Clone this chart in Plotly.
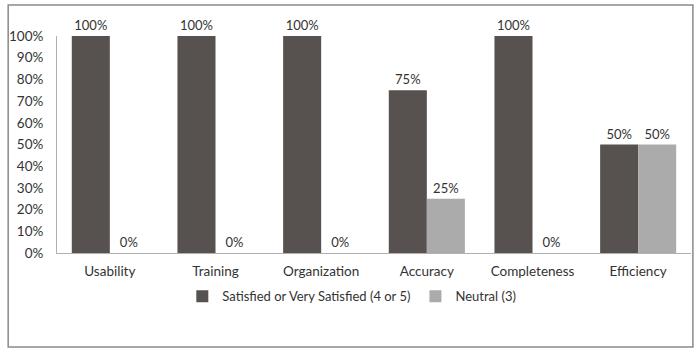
import plotly.graph_objects as go

categories = ["Usability", "Training", "Organization", "Accuracy", "Completeness", "Efficiency"]
satisfied = [1.00, 1.00, 1.00, 0.75, 1.00, 0.50]
neutral = [0.00, 0.00, 0.00, 0.25, 0.00, 0.50]
series_names = ["Satisfied or Very Satisfied (4 or 5)", "Neutral (3)"]

FONT = "Lato"
TXT = "#333333"

fig = go.Figure()
fig.add_trace(go.Bar(
    x=categories, y=satisfied, name=series_names[0],
    marker=dict(color="#57524f", line=dict(width=0)),
    text=[f"{v:.0%}" for v in satisfied], textposition="outside",
    textfont=dict(family=FONT, size=13, color=TXT), cliponaxis=False,
))
fig.add_trace(go.Bar(
    x=categories, y=neutral, name=series_names[1],
    marker=dict(color="#ababab", line=dict(width=0)),
    text=[f"{v:.0%}" for v in neutral], textposition="outside",
    textfont=dict(family=FONT, size=13, color=TXT), cliponaxis=False,
))

fig.update_layout(
    width=700, height=354,
    margin=dict(l=55, r=9, t=36, b=101),
    paper_bgcolor="white", plot_bgcolor="white",
    barmode="group", bargap=0.28, bargroupgap=0,
    font=dict(family=FONT, size=13, color=TXT),
    showlegend=True,
    legend=dict(orientation="h", x=0.465, xanchor="center", y=-0.2, yanchor="middle",
                font=dict(family=FONT, size=13, color=TXT), itemwidth=30,
                traceorder="normal"),
    xaxis=dict(showline=True, linecolor="#b0b0b0", linewidth=1, ticks="",
               showgrid=False, ticklabelstandoff=6,
               tickfont=dict(family=FONT, size=13.5, color=TXT)),
    yaxis=dict(range=[0, 1], dtick=0.1, tickformat=".0%", showline=True,
               linecolor="#b0b0b0", linewidth=1, showgrid=False, zeroline=False,
               ticks="", ticklen=0, ticklabelstandoff=10,
               tickfont=dict(family=FONT, size=13.5, color=TXT)),
    shapes=[dict(type="rect", xref="paper", yref="paper",
                 x0=-0.077, x1=1.003, y0=-0.433, y1=1.143,
                 line=dict(color="#8a8a8a", width=1.5), fillcolor="rgba(0,0,0,0)",
                 layer="below")],
)

fig.write_html("out.html")
